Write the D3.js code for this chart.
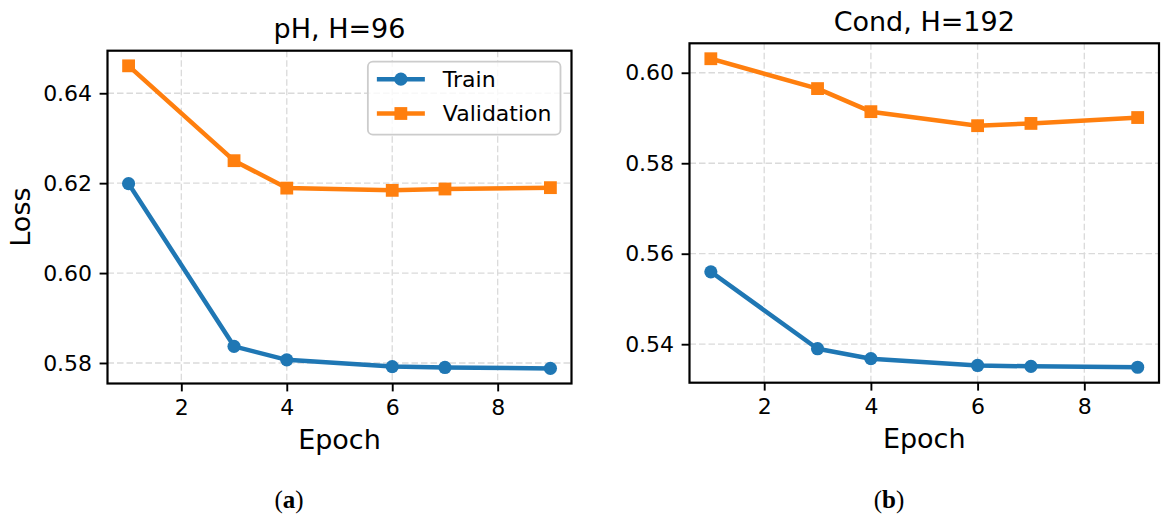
<!DOCTYPE html>
<html lang="en">
  <head>
    <meta charset="UTF-8" />
    <title>Loss curves</title>
    <script src="https://d3js.org/d3.v7.min.js"></script>
    <style>
      body { margin: 0; background: #fff; }
      svg { display: block; font-family: 'DejaVu Sans', sans-serif; }
      .grid line { stroke: #dadada; stroke-width: 1.3; stroke-dasharray: 6.5 3; }
      .tick line { stroke: #000; stroke-width: 1.9; }
      .tick text { fill: #000; }
    </style>
  </head>

  <body>
    <svg width="1171" height="523"></svg>

    <script>
      // values
      let epochs = [1, 3, 4, 6, 7, 9]
      let phTrain = [0.6199, 0.5837, 0.5807, 0.5792, 0.579, 0.5788]
      let phVal = [0.6461, 0.625, 0.6189, 0.6184, 0.6187, 0.619]
      let condTrain = [0.556, 0.539, 0.5368, 0.5353, 0.5351, 0.5349]
      let condVal = [0.6031, 0.5965, 0.5914, 0.5883, 0.5888, 0.5901]

      let xTicks = [2, 4, 6, 8]
      let phTicks = [0.58, 0.6, 0.62, 0.64]
      let condTicks = [0.54, 0.56, 0.58, 0.6]
      let seriesNames = ['Train', 'Validation']
      let colors = ['#1f77b4', '#ff7f0e']

      let svg = d3.select('svg')
      let tickFont = 22
      let labelFont = 27

      // pad a data range by 5% on each side, like matplotlib does
      function padded(values) {
        let [lo, hi] = d3.extent(values)
        let m = (hi - lo) * 0.05
        return [lo - m, hi + m]
      }

      function drawPanel(p) {
        let w = p.right - p.left
        let h = p.bottom - p.top
        let g = svg.append('g').attr('transform', `translate(${p.left},${p.top})`)

        let x = d3.scaleLinear().domain(padded(epochs)).range([0, w])
        let y = d3.scaleLinear().domain(padded(p.train.concat(p.val))).range([h, 0])

        // dashed grid below everything
        let grid = g.append('g').attr('class', 'grid')
        grid.selectAll('line.v').data(xTicks).join('line')
          .attr('class', 'v')
          .attr('x1', d => x(d)).attr('x2', d => x(d))
          .attr('y1', 0).attr('y2', h)
        grid.selectAll('line.h').data(p.ticks).join('line')
          .attr('class', 'h')
          .attr('x1', 0).attr('x2', w)
          .attr('y1', d => y(d)).attr('y2', d => y(d))

        let xAxis = g.append('g')
          .attr('transform', `translate(0,${h})`)
          .call(d3.axisBottom(x).tickValues(xTicks).tickSize(7.9).tickPadding(7.5).tickFormat(d3.format('d')))
        let yAxis = g.append('g')
          .call(d3.axisLeft(y).tickValues(p.ticks).tickSize(7.9).tickPadding(7.5).tickFormat(d3.format('.2f')))
        xAxis.select('.domain').remove()
        yAxis.select('.domain').remove()
        g.selectAll('.tick text').attr('font-size', tickFont).attr('font-family', 'DejaVu Sans')

        let line = d3.line().x((d, i) => x(epochs[i])).y(d => y(d))
        let series = [p.train, p.val]
        series.forEach((s, k) => {
          g.append('path')
            .datum(s)
            .attr('d', line)
            .attr('fill', 'none')
            .attr('stroke', colors[k])
            .attr('stroke-width', 4.5)
            .attr('stroke-linejoin', 'round')
            .attr('stroke-linecap', 'square')
        })
        g.selectAll('circle.train').data(p.train).join('circle')
          .attr('class', 'train')
          .attr('cx', (d, i) => x(epochs[i]))
          .attr('cy', d => y(d))
          .attr('r', 6.6)
          .attr('fill', colors[0])
        g.selectAll('rect.val').data(p.val).join('rect')
          .attr('class', 'val')
          .attr('x', (d, i) => x(epochs[i]) - 6.4)
          .attr('y', d => y(d) - 6.4)
          .attr('width', 12.8)
          .attr('height', 12.8)
          .attr('fill', colors[1])

        // axes frame
        g.append('rect')
          .attr('width', w).attr('height', h)
          .attr('fill', 'none').attr('stroke', '#000').attr('stroke-width', 2.2)

        g.append('text')
          .attr('x', w / 2).attr('y', p.titleY - p.top)
          .attr('text-anchor', 'middle')
          .attr('font-size', labelFont)
          .text(p.title)
        g.append('text')
          .attr('x', w / 2).attr('y', p.xlabelY - p.top)
          .attr('text-anchor', 'middle')
          .attr('font-size', labelFont)
          .text('Epoch')
        if (p.ylabel) {
          g.append('text')
            .attr('transform', `translate(${30 - p.left},${h / 2}) rotate(-90)`)
            .attr('text-anchor', 'middle')
            .attr('font-size', labelFont)
            .text(p.ylabel)
        }
        if (p.legend) drawLegend(g, w)

        // sub-figure caption, serif with bold letter
        let cap = svg.append('text')
          .attr('x', p.capX).attr('y', 508)
          .attr('text-anchor', 'middle')
          .attr('font-family', 'Liberation Serif, serif')
          .attr('font-size', 25)
        cap.append('tspan').text('(')
        cap.append('tspan').attr('font-weight', 'bold').text(p.cap)
        cap.append('tspan').text(')')
      }

      function drawLegend(g, w) {
        let lg = g.append('g')
        let box = lg.append('rect')
        let rows = lg.selectAll('g.row').data(seriesNames).join('g')
          .attr('class', 'row')
        rows.append('line')
          .attr('x1', 0).attr('x2', 48)
          .attr('stroke', (d, i) => colors[i])
          .attr('stroke-width', 4.5)
        rows.filter((d, i) => i === 0).append('circle')
          .attr('cx', 24).attr('r', 6.6).attr('fill', colors[0])
        rows.filter((d, i) => i === 1).append('rect')
          .attr('x', 17.6).attr('y', -6.4).attr('width', 12.8).attr('height', 12.8)
          .attr('fill', colors[1])
        rows.append('text')
          .attr('x', 66).attr('dy', '0.36em')
          .attr('font-size', tickFont)
          .text(d => d)

        let textW = d3.max(rows.selectAll('text').nodes(), n => n.getComputedTextLength())
        let bw = 9 + 66 + textW + 9
        let bh = 73
        let left = w - 11 - bw
        rows.attr('transform', (d, i) => `translate(${left + 9},${11 + 17.5 + i * 34.3})`)
        box.attr('x', left).attr('y', 11)
          .attr('width', bw).attr('height', bh)
          .attr('rx', 5)
          .attr('fill', 'rgba(255,255,255,0.8)')
          .attr('stroke', '#cccccc')
          .attr('stroke-width', 1.8)
      }

      drawPanel({
        left: 107.5, right: 571.5, top: 50.7, bottom: 383.5,
        train: phTrain, val: phVal, ticks: phTicks,
        title: 'pH, H=96', titleY: 38, xlabelY: 449,
        ylabel: 'Loss', legend: true, capX: 289, cap: 'a'
      })
      drawPanel({
        left: 689.5, right: 1159, top: 43.3, bottom: 382.7,
        train: condTrain, val: condVal, ticks: condTicks,
        title: 'Cond, H=192', titleY: 31, xlabelY: 448.5,
        legend: false, capX: 889, cap: 'b'
      })
    </script>
  </body>
</html>
